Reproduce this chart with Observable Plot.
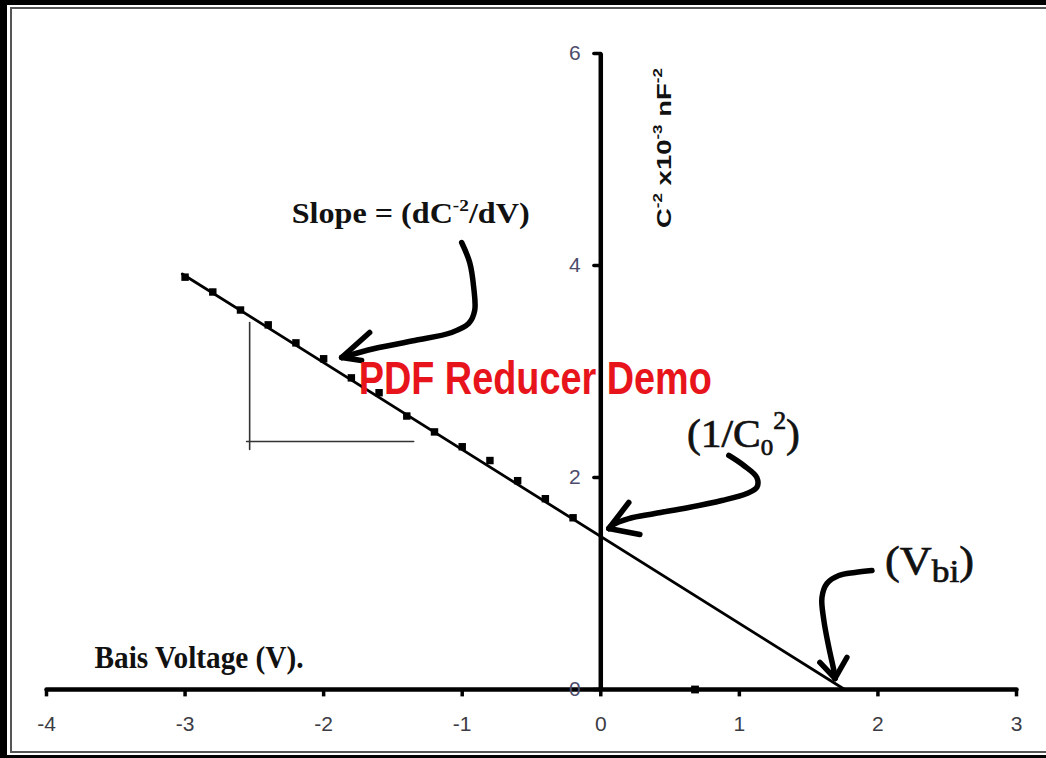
<!DOCTYPE html>
<html><head><meta charset="utf-8">
<script src="https://cdn.jsdelivr.net/npm/d3@7"></script>
<script src="https://cdn.jsdelivr.net/npm/@observablehq/plot@0.6"></script>
<style>
html,body{margin:0;padding:0;background:#fff;}
#wrap{position:relative;width:1046px;height:758px;overflow:hidden;background:#fff;}
#chart{position:absolute;left:0;top:0;width:1046px;height:758px;}
.b{position:absolute;box-sizing:border-box;pointer-events:none;}
</style></head><body>
<div id="wrap"><div id="chart"></div>
<div class="b" style="left:0;top:0;width:1046px;height:758px;border-style:solid;border-color:#000;border-width:5px 0 3px 7px;"></div>
<div class="b" style="left:10px;top:7px;width:1040px;height:746px;border-style:solid;border-color:#555;border-width:2px 0 2px 2px;"></div>
</div>
<script>
// ---- data (volts, C^-2 x10^-3 nF^-2) ----
const xTicks = [-4, -3, -2, -1, 0, 1, 2, 3];
const yTicks = [0, 2, 4, 6];
const biasV  = [-3.0, -2.8, -2.6, -2.4, -2.2, -2.0, -1.8, -1.6, -1.4, -1.2, -1.0, -0.8, -0.6, -0.4, -0.2];
const invC2  = [3.89, 3.75, 3.58, 3.44, 3.27, 3.12, 2.94, 2.80, 2.58, 2.43, 2.29, 2.16, 1.97, 1.80, 1.62];
const fitV   = [-3.02, 1.76];
const fitC   = [3.92, 0.0];
const strayV = [0.68];
const strayC = [0.0];
// slope triangle (two thin segments)
const triangleSegs = [[[-2.534, 3.462], [-2.534, 2.264]], [[-2.556, 2.340], [-1.350, 2.340]]];
// hand-drawn arrows (shaft points, then barb ends from the last point)
const slopeArrow = [[-1.004, 4.217], [-0.946, 4.028], [-0.917, 3.792], [-0.910, 3.575], [-0.953, 3.453],
                    [-1.076, 3.368], [-1.343, 3.292], [-1.632, 3.217], [-1.870, 3.132]];
const slopeBarbs = [[-1.668, 3.368], [-1.726, 3.104]];
const interceptArrow = [[0.924, 2.208], [1.032, 2.113], [1.126, 2.000], [1.126, 1.906], [1.054, 1.849],
                        [0.874, 1.783], [0.635, 1.717], [0.390, 1.660], [0.202, 1.613], [0.079, 1.547], [0.058, 1.519]];
const interceptBarbs = [[0.202, 1.764], [0.282, 1.462]];
const vbiArrow = [[1.957, 1.123], [1.834, 1.104], [1.718, 1.075], [1.632, 1.000], [1.596, 0.868],
                  [1.610, 0.651], [1.646, 0.396], [1.682, 0.179], [1.690, 0.104]];
const vbiBarbs = [[1.581, 0.255], [1.776, 0.302]];
// annotation texts (^..^ superscript, _.._ subscript) and their anchors
const annoText = ["Slope = (dC^-2^/dV)", "PDF Reducer Demo", "(1/C_0_^2^)", "(V_bi_)", "Bais Voltage (V).", "C^-2^ x10^-3^ nF^-2^"];
const annoV    = [-1.372, -0.473, 1.029, 2.372, -2.899, 0.455];
const annoC    = [4.487, 2.931, 2.404, 1.215, 0.295, 5.108];

// ---- styles ----
const serif = "'Liberation Serif','Times New Roman',serif";
const sans = "'Liberation Sans',Arial,sans-serif";
const tickFontSize = 21;
const textFmt = {};
textFmt[annoText[0]] = {fs: 29, w: 238, sup: 0.6, supShift: 0.42};
textFmt[annoText[1]] = {fs: 46, w: 353};
textFmt[annoText[2]] = {fs: 40, w: 113, sup: 0.62, supShift: 0.45, sub: 0.6, subShift: 0.2, thick: 0.7};
textFmt[annoText[3]] = {fs: 40, w: 89, sub: 0.8, subShift: 0.22, thick: 0.7};
textFmt[annoText[4]] = {fs: 31, w: 209};
textFmt[annoText[5]] = {fs: 21, w: 160, sup: 0.62, supShift: 0.42};

const pts = biasV.map((v, i) => ({v, c: invC2[i]}));
const fit = fitV.map((v, i) => ({v, c: fitC[i]}));
const stray = strayV.map((v, i) => ({v, c: strayC[i]}));
const px = d => d[0], py = d => d[1];
const arrowOpts = {x: px, y: py, curve: "catmull-rom", stroke: "#000", strokeWidth: 5.5, strokeLinecap: "round", strokeLinejoin: "round"};
const barbMark = (shaft, barbs) => Plot.link(barbs, {
  x1: () => shaft[shaft.length - 1][0], y1: () => shaft[shaft.length - 1][1],
  x2: px, y2: py, stroke: "#000", strokeWidth: 5.5, strokeLinecap: "round"});
const anno = (i, o) => Plot.text([annoText[i]], {x: [annoV[i]], y: [annoC[i]], text: d => d, ...o});

const svg = Plot.plot({
  width: 1046, height: 758,
  marginLeft: 46, marginRight: 30, marginTop: 53, marginBottom: 69,
  style: {background: "transparent", overflow: "visible"},
  x: {domain: [-4, 3], axis: null},
  y: {domain: [0, 6], axis: null},
  marks: [
    // slope triangle
    ...triangleSegs.map(s => Plot.line(s, {x: px, y: py, stroke: "#333", strokeWidth: 1.6})),
    // fitted line
    Plot.line(fit, {x: "v", y: "c", stroke: "#000", strokeWidth: 2.8}),
    // axes
    Plot.link([0], {x1: -4, x2: 3, y1: 0, y2: 0, stroke: "#000", strokeWidth: 4.5, strokeLinecap: "round"}),
    Plot.link(xTicks, {x1: d => d, x2: d => d, y1: 0, y2: -0.065, stroke: "#000", strokeWidth: 3.5}),
    Plot.text(xTicks, {x: d => d, y: 0, dy: 35, text: d => String(d), fontFamily: sans, fontSize: tickFontSize, fill: "#3c3c44"}),
    Plot.link([0], {x1: 0, x2: 0, y1: 0, y2: 6, stroke: "#000", strokeWidth: 4.5}),
    Plot.link(yTicks, {x1: -0.05, x2: 0, y1: d => d, y2: d => d, stroke: "#000", strokeWidth: 3.5, strokeLinecap: "round"}),
    Plot.text(yTicks, {x: 0, y: d => d, dx: -20, textAnchor: "end", text: d => String(d), fontFamily: sans, fontSize: tickFontSize, fill: "#4c4c6c"}),
    // data points
    Plot.dot(pts, {x: "v", y: "c", symbol: "square", r: 4.2, fill: "#000", stroke: "none"}),
    Plot.dot(stray, {x: "v", y: "c", symbol: "square", r: 4.4, fill: "#000", stroke: "none"}),
    // arrows
    Plot.line(slopeArrow, arrowOpts), barbMark(slopeArrow, slopeBarbs),
    Plot.line(interceptArrow, arrowOpts), barbMark(interceptArrow, interceptBarbs),
    Plot.line(vbiArrow, arrowOpts), barbMark(vbiArrow, vbiBarbs),
    // annotations
    anno(0, {fontFamily: serif, fontWeight: "bold", fill: "#111"}),
    anno(1, {fontFamily: sans, fontWeight: "bold", fill: "#e8141c"}),
    anno(2, {fontFamily: serif, fill: "#111"}),
    anno(3, {fontFamily: serif, fill: "#111"}),
    anno(4, {fontFamily: serif, fontWeight: "bold", fill: "#111"}),
    anno(5, {fontFamily: sans, fontWeight: "bold", fill: "#111", rotate: -90})
  ]
});

// rich text: superscripts/subscripts and fitted widths
d3.select(svg).selectAll("text").each(function () {
  const raw = this.textContent;
  const f = textFmt[raw];
  if (!f) return;
  const segs = [];
  let mode = "n", buf = "";
  for (const ch of raw) {
    if (ch === "^" || ch === "_") {
      if (buf) segs.push({mode, t: buf});
      buf = "";
      const m = ch === "^" ? "sup" : "sub";
      mode = mode === m ? "n" : m;
    } else buf += ch;
  }
  if (buf) segs.push({mode, t: buf});
  const el = d3.select(this);
  el.text(null).attr("font-size", f.fs);
  if (f.thick) el.attr("stroke", "#111").attr("stroke-width", f.thick);
  let cur = 0;
  for (const s of segs) {
    let size = f.fs, shift = 0;
    if (s.mode === "sup") { size = f.fs * (f.sup || 0.6); shift = -f.fs * (f.supShift || 0.42); }
    if (s.mode === "sub") { size = f.fs * (f.sub || 0.6); shift = f.fs * (f.subShift || 0.2); }
    el.append("tspan").attr("font-size", size).attr("dy", (shift - cur) || null).text(s.t);
    cur = shift;
  }
  if (f.w) el.attr("textLength", f.w).attr("lengthAdjust", "spacingAndGlyphs");
});

document.getElementById("chart").appendChild(svg);
</script>
</body></html>
